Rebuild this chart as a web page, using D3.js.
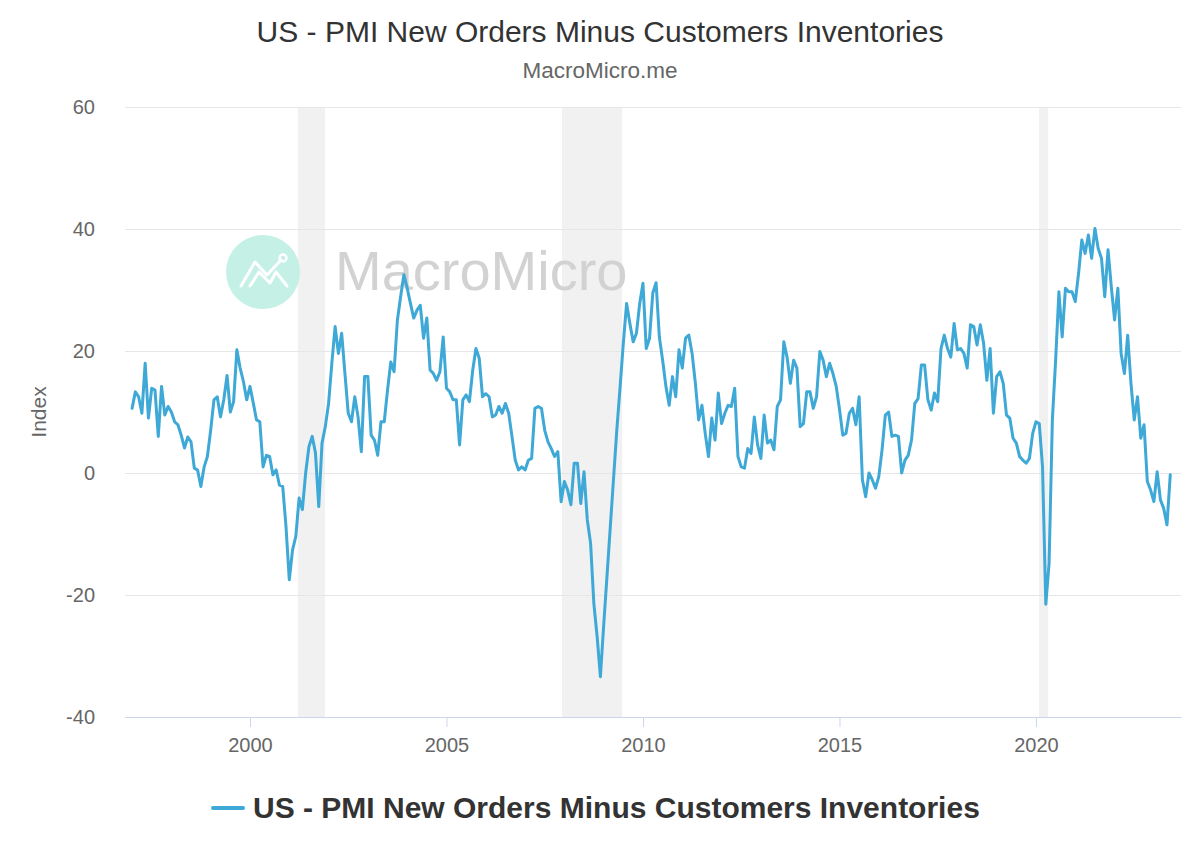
<!DOCTYPE html>
<html>
<head>
<meta charset="utf-8">
<script src="https://cdn.jsdelivr.net/npm/d3@7"></script>
<style>
  body { margin: 0; background: #fff; }
  svg { display: block; font-family: "Liberation Sans", Arial, Helvetica, sans-serif; }
</style>
</head>
<body>
<svg id="chart"></svg>
<script>
const titleText = "US - PMI New Orders Minus Customers Inventories";
const subtitleText = "MacroMicro.me";
const seriesName = "US - PMI New Orders Minus Customers Inventories";

// monthly values, Jan 1997 .. Jun 2023 (one row per year)
const firstYear = 1997;
const spread = [
  10.6, 13.3, 12.5, 9.8, 18, 9, 13.9, 13.6, 6, 14.2, 9.5, 10.9,
  10, 8.4, 7.9, 6.2, 4.1, 5.9, 5.1, 0.8, 0.5, -2.2, 1, 2.7,
  7, 12, 12.5, 9.2, 12, 16, 10, 11.7, 20.2, 17.2, 15, 12,
  14.2, 11.5, 8.7, 8.4, 1, 2.9, 2.7, -0.3, 0.5, -2, -2.2, -8.8,
  -17.5, -12.6, -10.4, -4.1, -6, 0, 4.3, 6, 3.3, -5.5, 4.9, 7.6,
  11.4, 18, 24, 19.6, 22.9, 16.3, 9.8, 8.4, 12.5, 9.2, 3.5, 15.8,
  15.8, 6.2, 5.4, 2.9, 8.4, 8.4, 13.6, 18.2, 16.6, 25, 28.9, 32.5,
  30.3, 27.8, 25.4, 26.7, 27.5, 22.1, 25.4, 16.9, 16.3, 15.2, 16.6, 22.3,
  13.9, 13.3, 12, 12, 4.6, 12, 12.8, 11.7, 16.8, 20.4, 18.8, 12.5,
  13, 12.5, 9.2, 9.5, 10.9, 9.8, 11.4, 9.8, 6, 2.1, 0.5, 1,
  0.5, 2.1, 2.4, 10.6, 10.9, 10.6, 7, 5.1, 4, 2.7, 3.5, -4.7,
  -1.4, -2.8, -5.2, 1.6, 1.6, -5, 0.2, -7.7, -11.5, -21.4, -26.8, -33.4,
  -25, -17, -9, -1, 7, 14, 21.3, 27.8, 24.5, 21.5, 22.9, 27.8,
  31.1, 20.4, 22.1, 29.5, 31.2, 22.3, 18.5, 14.2, 11.1, 15.8, 12.5, 20.2,
  17.2, 22.1, 22.6, 19.6, 14.7, 8.7, 11.1, 6.5, 2.7, 9, 5.4, 13.1,
  8.1, 9.8, 11.1, 10.9, 13.9, 2.7, 1, 0.8, 4, 3.2, 9.2, 4.6,
  2.4, 9.5, 4.9, 5.4, 3.8, 10.9, 12, 21.5, 19, 14.7, 18.5, 17.2,
  7.6, 8.1, 13.3, 13.3, 10.6, 12.5, 19.9, 18.5, 15.8, 18, 16.3, 14.2,
  10.5, 6.2, 6.5, 9.8, 10.6, 7.9, 12.5, -1.1, -3.9, 0, -1.1, -2.5,
  -0.6, 3.8, 9.5, 10, 6, 6.2, 6, 0, 2.1, 2.9, 5.4, 11.4,
  12.2, 17.7, 17.7, 12, 10.3, 13.1, 11.7, 20.4, 22.6, 20.4, 19, 24.5,
  20.2, 20.4, 19.6, 17.2, 24.3, 24, 21, 24.3, 21.3, 15.2, 20.4, 9.8,
  15.8, 16.6, 14.7, 9.5, 9, 5.7, 4.9, 2.7, 2.1, 1.6, 2.4, 6.5,
  8.4, 8.1, 1, -21.5, -14.8, 8.7, 18.5, 29.7, 22.3, 30.3, 29.7, 29.7,
  28.1, 32.7, 38.2, 36, 39, 35.2, 40.1, 36.8, 35.2, 28.9, 36.6, 30.5,
  25.1, 30.3, 19.6, 16.3, 22.6, 14.7, 8.7, 12.5, 5.7, 7.9, -1.4, -2.8,
  -4.7, 0.2, -4.4, -5.8, -8.5, -0.3
];

// recession bands (decimal years)
const recessionStart = [2001.22, 2007.94, 2020.08];
const recessionEnd = [2001.91, 2009.47, 2020.31];

const xTicks = [2000, 2005, 2010, 2015, 2020];
const yTicks = [-40, -20, 0, 20, 40, 60];

const W = 1200, H = 862;
const margin = { top: 107, right: 19, bottom: 145, left: 125 };
const width = W - margin.left - margin.right;
const height = H - margin.top - margin.bottom;
const lineColor = "#3ea8d6";

const svg = d3.select("#chart")
  .attr("width", W)
  .attr("height", H);

svg.append("rect")
  .attr("width", W)
  .attr("height", H)
  .attr("fill", "#fff");

const x = d3.scaleLinear()
  .domain([1996.82, 2023.69])
  .range([0, width]);

const y = d3.scaleLinear()
  .domain([-40, 60])
  .range([height, 0]);

const data = spread.map(function(v, i) {
  return { t: firstYear + i / 12, v: v };
});

const recessions = recessionStart.map(function(s, i) {
  return { s: s, e: recessionEnd[i] };
});

const plainNum = function(d) { return String(d); };

// titles
svg.append("text")
  .attr("x", W / 2)
  .attr("y", 42)
  .attr("text-anchor", "middle")
  .attr("font-size", "30px")
  .attr("fill", "#333")
  .text(titleText);

svg.append("text")
  .attr("x", W / 2)
  .attr("y", 78)
  .attr("text-anchor", "middle")
  .attr("font-size", "22.5px")
  .attr("fill", "#666")
  .text(subtitleText);

const plot = svg.append("g")
  .attr("transform", `translate(${margin.left}, ${margin.top})`);

// recession shading
plot.selectAll(".band")
  .data(recessions)
  .enter().append("rect")
  .attr("class", "band")
  .attr("x", function(d) { return x(d.s); })
  .attr("y", 0)
  .attr("width", function(d) { return x(d.e) - x(d.s); })
  .attr("height", height)
  .attr("fill", "#f1f1f1");

// y grid + labels
const yAxis = plot.append("g")
  .call(d3.axisLeft(y).tickValues(yTicks).tickSize(-width).tickPadding(30).tickFormat(plainNum));
yAxis.select(".domain").remove();
yAxis.selectAll(".tick line").attr("stroke", "#e6e6e6");
yAxis.selectAll(".tick text")
  .attr("fill", "#666")
  .attr("font-size", "20px")
  .attr("font-family", "Liberation Sans, Arial, sans-serif");

svg.append("text")
  .attr("transform", `translate(46, ${margin.top + height / 2}) rotate(-90)`)
  .attr("text-anchor", "middle")
  .attr("font-size", "21px")
  .attr("fill", "#666")
  .text("Index");

// watermark
const mark = plot.append("g")
  .attr("transform", `translate(${263 - margin.left}, ${272 - margin.top})`);
mark.append("circle")
  .attr("r", 37)
  .attr("fill", "#c4f0e6");
mark.append("path")
  .attr("d", "M-22,14 L-8,-10 L4,3 L18,-12")
  .attr("fill", "none")
  .attr("stroke", "#fff")
  .attr("stroke-width", 3)
  .attr("stroke-linejoin", "round")
  .attr("stroke-linecap", "round");
mark.append("path")
  .attr("d", "M-13,14 L-4,0 L7,11 L13,0 L24,14")
  .attr("fill", "none")
  .attr("stroke", "#fff")
  .attr("stroke-width", 3)
  .attr("stroke-linejoin", "round")
  .attr("stroke-linecap", "round");
mark.append("circle")
  .attr("cx", 20)
  .attr("cy", -14)
  .attr("r", 3.5)
  .attr("fill", "none")
  .attr("stroke", "#fff")
  .attr("stroke-width", 2.5);
mark.append("text")
  .attr("x", 72)
  .attr("y", 18)
  .attr("font-size", "56px")
  .attr("fill", "#d2d2d2")
  .attr("font-weight", 300)
  .text("MacroMicro");

// x axis
const xAxis = plot.append("g")
  .attr("transform", `translate(0, ${height})`)
  .call(d3.axisBottom(x).tickValues(xTicks).tickSize(10).tickSizeOuter(0).tickPadding(11).tickFormat(plainNum));
xAxis.select(".domain").attr("stroke", "#ccd6eb");
xAxis.selectAll(".tick line").attr("stroke", "#ccd6eb");
xAxis.selectAll(".tick text")
  .attr("fill", "#666")
  .attr("font-size", "20px")
  .attr("font-family", "Liberation Sans, Arial, sans-serif");

// series
const line = d3.line()
  .x(function(d) { return x(d.t); })
  .y(function(d) { return y(d.v); });

plot.append("path")
  .datum(data)
  .attr("d", line)
  .attr("fill", "none")
  .attr("stroke", lineColor)
  .attr("stroke-width", 3)
  .attr("stroke-linejoin", "round")
  .attr("stroke-linecap", "round");

// legend
const legend = svg.append("g")
  .attr("transform", "translate(213, 808)");
legend.append("line")
  .attr("x1", 0)
  .attr("x2", 30)
  .attr("stroke", lineColor)
  .attr("stroke-width", 4)
  .attr("stroke-linecap", "round");
legend.append("text")
  .attr("x", 40)
  .attr("y", 10)
  .attr("font-size", "30px")
  .attr("font-weight", "bold")
  .attr("fill", "#333")
  .text(seriesName);
</script>
</body>
</html>
